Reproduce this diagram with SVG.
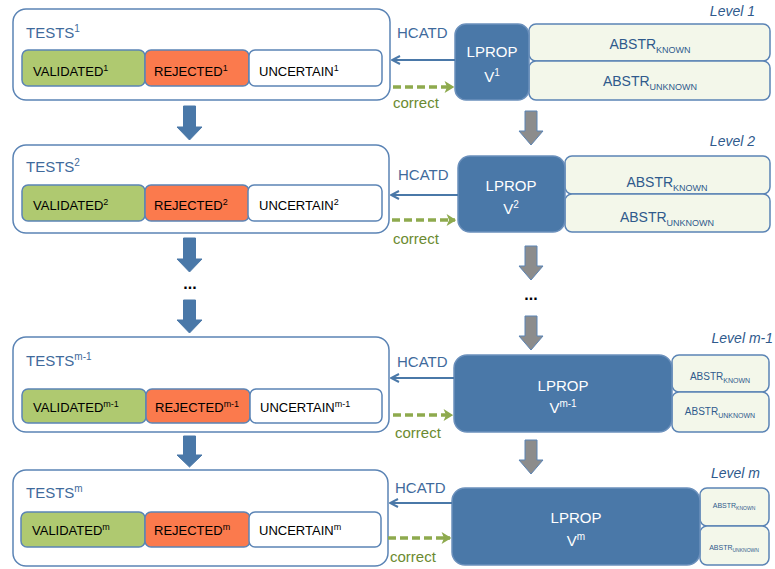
<svg xmlns="http://www.w3.org/2000/svg" width="775" height="569" viewBox="0 0 775 569">
<defs>
<style>
text{font-family:"Liberation Sans","Noto Sans",Arial,sans-serif}
.tests{fill:#fff;stroke:#5b84b5;stroke-width:1.5}
.val{fill:#afc970;stroke:#5b84b5;stroke-width:1.5}
.rej{fill:#fb7a4d;stroke:#5b84b5;stroke-width:1.5}
.unc{fill:#fff;stroke:#5b84b5;stroke-width:1.5}
.lprop{fill:#4a78a8;stroke:#6b90bc;stroke-width:1.5}
.abs{fill:#f3f7ea;stroke:#5b84b5;stroke-width:1.5}
.ttl{fill:#3f6a9c;font-size:15px}
.lbl{fill:#000;font-size:13px}
.lp{fill:#fff;font-size:15px;text-anchor:middle}
.ab{fill:#2f5a8c;text-anchor:middle}
.lvl{fill:#2f5a8c;font-size:14px;font-style:italic;text-anchor:end}
.hc{fill:#3f6a9c;font-size:15px}
.cor{fill:#6b8a30;font-size:15px}
.harrow{stroke:#4a78a8;stroke-width:2;fill:none}
.carrow{stroke:#8eaa4e;stroke-width:3.5;stroke-dasharray:8 4;fill:none}
.barrow{fill:#4a78a8;stroke:#4a78a8;stroke-width:1}
.garrow{fill:#8c8c8c;stroke:#5b84b5;stroke-width:1}
.dots{fill:#000;font-size:16px;font-weight:bold;text-anchor:middle}
</style>
<marker id="mh" viewBox="0 0 10 10" refX="9" refY="5" markerWidth="10" markerHeight="10" markerUnits="userSpaceOnUse" orient="auto">
<path d="M1,1 L9,5 L1,9" fill="none" stroke="#4a78a8" stroke-width="2"/>
</marker>
<marker id="mc" viewBox="0 0 10 10" refX="9" refY="5" markerWidth="12" markerHeight="12" markerUnits="userSpaceOnUse" orient="auto">
<path d="M2,0 L10,5 L2,10 L4,5 Z" fill="#8eaa4e"/>
</marker>
</defs>

<g id="tests1">
<rect class="tests" x="13" y="9" width="377" height="91" rx="13"/>
<text class="ttl" x="26" y="38">TESTS<tspan font-size="10" dy="-6">1</tspan></text>
<rect class="val" x="22" y="50" width="123" height="36" rx="6"/>
<rect class="rej" x="145" y="50" width="104" height="36" rx="6"/>
<rect class="unc" x="249" y="50" width="133" height="36" rx="6"/>
<text class="lbl" x="33" y="76">VALIDATED<tspan font-size="9" dy="-5">1</tspan></text>
<text class="lbl" x="154" y="76">REJECTED<tspan font-size="9" dy="-5">1</tspan></text>
<text class="lbl" x="259" y="76">UNCERTAIN<tspan font-size="9" dy="-5">1</tspan></text>
</g>
<g id="lprop1">
<rect class="abs" x="529" y="24" width="241" height="37" rx="7"/>
<rect class="abs" x="529" y="61" width="241" height="39" rx="7"/>
<rect class="lprop" x="455" y="24" width="74" height="76" rx="11"/>
<text class="lp" x="492" y="57">LPROP</text>
<text class="lp" x="492" y="82">V<tspan font-size="10" dy="-6">1</tspan></text>
<text class="ab" x="650" y="49" font-size="14">ABSTR<tspan font-size="9" dy="4">KNOWN</tspan></text>
<text class="ab" x="650" y="86" font-size="14">ABSTR<tspan font-size="9" dy="4">UNKNOWN</tspan></text>
<text class="lvl" x="755" y="16">Level 1</text>
</g>

<g id="tests2">
<rect class="tests" x="13" y="145" width="376" height="88" rx="13"/>
<text class="ttl" x="26" y="172">TESTS<tspan font-size="10" dy="-6">2</tspan></text>
<rect class="val" x="22" y="185" width="123" height="36" rx="6"/>
<rect class="rej" x="145" y="185" width="104" height="36" rx="6"/>
<rect class="unc" x="248" y="185" width="134" height="36" rx="6"/>
<text class="lbl" x="33" y="210">VALIDATED<tspan font-size="9" dy="-5">2</tspan></text>
<text class="lbl" x="154" y="210">REJECTED<tspan font-size="9" dy="-5">2</tspan></text>
<text class="lbl" x="259" y="210">UNCERTAIN<tspan font-size="9" dy="-5">2</tspan></text>
</g>
<g id="lprop2">
<rect class="abs" x="565" y="156" width="205" height="38" rx="7"/>
<rect class="abs" x="565" y="194" width="205" height="38" rx="7"/>
<rect class="lprop" x="458" y="156" width="107" height="76" rx="12"/>
<text class="lp" x="511" y="191">LPROP</text>
<text class="lp" x="511" y="214">V<tspan font-size="10" dy="-6">2</tspan></text>
<text class="ab" x="667" y="187" font-size="14">ABSTR<tspan font-size="9" dy="4">KNOWN</tspan></text>
<text class="ab" x="667" y="222" font-size="14">ABSTR<tspan font-size="9" dy="4">UNKNOWN</tspan></text>
<text class="lvl" x="755" y="146">Level 2</text>
</g>

<g id="tests3">
<rect class="tests" x="13" y="337" width="376" height="95" rx="13"/>
<text class="ttl" x="26" y="366">TESTS<tspan font-size="10" dy="-6">m-1</tspan></text>
<rect class="val" x="22" y="389" width="124" height="34" rx="6"/>
<rect class="rej" x="146" y="389" width="104" height="34" rx="6"/>
<rect class="unc" x="250" y="389" width="132" height="34" rx="6"/>
<text class="lbl" x="33" y="412">VALIDATED<tspan font-size="9" dy="-5">m-1</tspan></text>
<text class="lbl" x="155" y="412">REJECTED<tspan font-size="9" dy="-5">m-1</tspan></text>
<text class="lbl" x="260" y="412">UNCERTAIN<tspan font-size="9" dy="-5">m-1</tspan></text>
</g>
<g id="lprop3">
<rect class="abs" x="672" y="355" width="97" height="37" rx="7"/>
<rect class="abs" x="672" y="392" width="97" height="40" rx="7"/>
<rect class="lprop" x="454" y="355" width="218" height="77" rx="13"/>
<text class="lp" x="563" y="391">LPROP</text>
<text class="lp" x="563" y="413">V<tspan font-size="10" dy="-6">m-1</tspan></text>
<text class="ab" x="720" y="380" font-size="10">ABSTR<tspan font-size="7" dy="3">KNOWN</tspan></text>
<text class="ab" x="720" y="415" font-size="10">ABSTR<tspan font-size="7" dy="3">UNKNOWN</tspan></text>
<text class="lvl" x="773" y="343">Level m-1</text>
</g>

<g id="tests4">
<rect class="tests" x="13" y="470" width="375" height="96" rx="13"/>
<text class="ttl" x="26" y="498">TESTS<tspan font-size="10" dy="-6">m</tspan></text>
<rect class="val" x="21" y="512" width="124" height="35" rx="6"/>
<rect class="rej" x="145" y="512" width="105" height="35" rx="6"/>
<rect class="unc" x="249" y="512" width="132" height="35" rx="6"/>
<text class="lbl" x="32" y="535">VALIDATED<tspan font-size="9" dy="-5">m</tspan></text>
<text class="lbl" x="154" y="535">REJECTED<tspan font-size="9" dy="-5">m</tspan></text>
<text class="lbl" x="259" y="535">UNCERTAIN<tspan font-size="9" dy="-5">m</tspan></text>
</g>
<g id="lprop4">
<rect class="abs" x="700" y="488" width="69" height="38" rx="7"/>
<rect class="abs" x="700" y="526" width="69" height="39" rx="7"/>
<rect class="lprop" x="452" y="488" width="248" height="77" rx="13"/>
<text class="lp" x="576" y="523">LPROP</text>
<text class="lp" x="576" y="546">V<tspan font-size="10" dy="-6">m</tspan></text>
<text class="ab" x="734" y="508" font-size="7">ABSTR<tspan font-size="5" dy="2">KNOWN</tspan></text>
<text class="ab" x="734" y="550" font-size="7">ABSTR<tspan font-size="5" dy="2">UNKNOWN</tspan></text>
<text class="lvl" x="760" y="478">Level m</text>
</g>

<g id="connectors">
<line class="harrow" x1="455" y1="60" x2="392" y2="60" marker-end="url(#mh)"/>
<line class="harrow" x1="458" y1="195" x2="391" y2="195" marker-end="url(#mh)"/>
<line class="harrow" x1="454" y1="378" x2="391" y2="378" marker-end="url(#mh)"/>
<line class="harrow" x1="452" y1="503" x2="390" y2="503" marker-end="url(#mh)"/>
<text class="hc" x="397" y="38">HCATD</text>
<text class="hc" x="398" y="180">HCATD</text>
<text class="hc" x="397" y="367">HCATD</text>
<text class="hc" x="395" y="493">HCATD</text>

<line class="carrow" x1="393" y1="87" x2="453" y2="87" marker-end="url(#mc)"/>
<line class="carrow" x1="392" y1="220" x2="455" y2="220" marker-end="url(#mc)"/>
<line class="carrow" x1="393" y1="415" x2="452" y2="415" marker-end="url(#mc)"/>
<line class="carrow" x1="388" y1="538" x2="450" y2="538" marker-end="url(#mc)"/>
<text class="cor" x="393" y="108">correct</text>
<text class="cor" x="393" y="244">correct</text>
<text class="cor" x="395" y="438">correct</text>
<text class="cor" x="390" y="562">correct</text>

<path class="barrow" d="M183.5,106 h12 v21 h6.5 l-12.5,13 l-12.5,-13 h6.5 z"/>
<path class="barrow" d="M183.5,238 h12 v21 h6.5 l-12.5,13 l-12.5,-13 h6.5 z"/>
<path class="barrow" d="M183.5,300 h12 v20 h6.5 l-12.5,13 l-12.5,-13 h6.5 z"/>
<path class="barrow" d="M183.5,436 h12 v19 h6.5 l-12.5,12 l-12.5,-12 h6.5 z"/>
<text class="dots" x="190" y="289">...</text>

<path class="garrow" d="M525,111 h12 v20 h6 l-12,14 l-12,-14 h6 z"/>
<path class="garrow" d="M525,246 h12 v20 h6 l-12,14 l-12,-14 h6 z"/>
<path class="garrow" d="M525,316 h12 v20 h6 l-12,14 l-12,-14 h6 z"/>
<path class="garrow" d="M525,440 h12 v20 h6 l-12,14 l-12,-14 h6 z"/>
<text class="dots" x="531" y="300">...</text>
</g>
</svg>
